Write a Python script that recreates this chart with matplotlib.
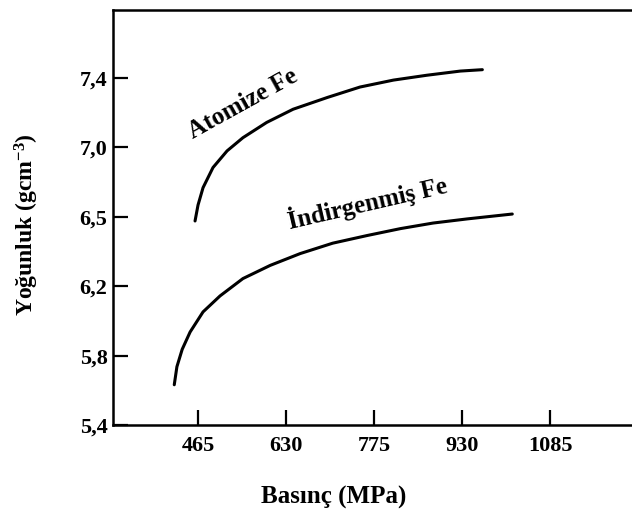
import matplotlib
matplotlib.use('Agg')
import matplotlib.pyplot as plt

# 字体
plt.rcParams['font.family'] = ['Liberation Serif', 'DejaVu Serif']
plt.rcParams['font.weight'] = 'bold'
plt.rcParams['mathtext.fontset'] = 'custom'
plt.rcParams['mathtext.rm'] = 'Liberation Serif:bold'
plt.rcParams['mathtext.it'] = 'Liberation Serif:bold'
plt.rcParams['mathtext.bf'] = 'Liberation Serif:bold'

# ---------------- 数据（位置按刻度序号） ----------------
x_ticklabels = ['465', '630', '775', '930', '1085']
y_ticklabels = ['5,4', '5,8', '6,2', '6,5', '7,0', '7,4']

atomize_x = [-0.034, 0.0, 0.057, 0.17, 0.33, 0.51, 0.78, 1.08, 1.47, 1.84, 2.22, 2.60, 2.98, 3.23]
atomize_y = [2.94, 3.17, 3.42, 3.71, 3.95, 4.14, 4.36, 4.55, 4.72, 4.87, 4.97, 5.04, 5.10, 5.12]

indirgenmis_x = [-0.27, -0.24, -0.18, -0.09, 0.057, 0.25, 0.51, 0.82, 1.16, 1.53, 1.92, 2.30, 2.67, 3.06, 3.57]
indirgenmis_y = [0.58, 0.84, 1.09, 1.34, 1.63, 1.86, 2.11, 2.30, 2.47, 2.62, 2.73, 2.83, 2.91, 2.97, 3.04]

# ---------------- 绘图 ----------------
fig = plt.figure(figsize=(6.32, 5.28), dpi=100)
ax = fig.add_axes([113/632, 103/528, 1 - 113/632, 415/528])

ax.plot(atomize_x, atomize_y, color='black', lw=2.2, solid_capstyle='round')
ax.plot(indirgenmis_x, indirgenmis_y, color='black', lw=2.2, solid_capstyle='round')

ax.text(0.51, 4.62, 'Atomize Fe', rotation=29, ha='center', va='center',
        fontsize=18, fontweight='bold')
ax.text(1.92, 3.21, 'İndirgenmiş Fe', rotation=13, ha='center', va='center',
        fontsize=18, fontweight='bold')

ax.set_xlim(-0.966, 4.93)
ax.set_ylim(0, 5.98)
ax.set_xticks(range(len(x_ticklabels)))
ax.set_xticklabels(x_ticklabels)
ax.set_yticks(range(len(y_ticklabels)))
ax.set_yticklabels(y_ticklabels)
ax.tick_params(direction='in', length=11, width=1.6, labelsize=16, pad=8)
ax.tick_params(axis='y', pad=4)

ax.spines['right'].set_visible(False)
for s in ['left', 'bottom', 'top']:
    ax.spines[s].set_linewidth(1.8)

fig.text(334/632, 1 - 497/528, 'Basınç (MPa)', ha='center', va='center',
         fontsize=18, fontweight='bold')
fig.text(27/632, 1 - 225/528, r'Yoğunluk (gcm$^{-3}$)', ha='center', va='center',
         rotation=90, fontsize=17, fontweight='bold')

fig.savefig('out.png', dpi=100)
